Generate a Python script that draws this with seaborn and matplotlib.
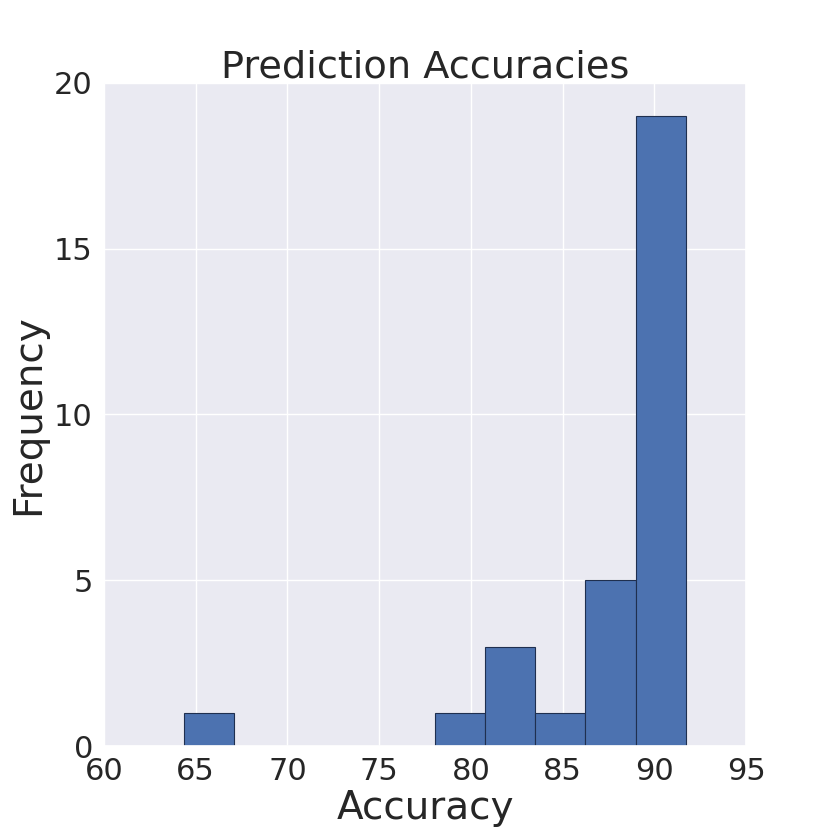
import matplotlib
matplotlib.use("Agg")
import matplotlib.pyplot as plt
import seaborn as sns
import numpy as np

bin_edges = [64.36, 67.10, 69.83, 72.57, 75.30, 78.04, 80.77, 83.51, 86.24, 88.98, 91.71]
counts = [1, 0, 0, 0, 0, 1, 3, 1, 5, 19]
x_ticks = [60, 65, 70, 75, 80, 85, 90, 95]
y_ticks = [0, 5, 10, 15, 20]

sns.set_theme(style="darkgrid")
plt.rcParams['font.family'] = ['DejaVu Sans']

fig = plt.figure(figsize=(8.3, 8.3), dpi=100)
ax = fig.add_axes([104/830, 1-746/830, (746-104)/830, (746-83)/830])

centers = [(bin_edges[i] + bin_edges[i+1]) / 2 for i in range(len(counts))]
sns.histplot(x=centers, weights=counts, bins=bin_edges, ax=ax,
             color="#4C72B0", alpha=1, edgecolor="#1f2f4f", linewidth=0.8)

ax.set_xlim(60, 95)
ax.set_ylim(0, 20)
ax.set_xticks(x_ticks)
ax.set_yticks(y_ticks)
ax.tick_params(labelsize=22, length=0, pad=8)
ax.set_xlabel("Accuracy", fontsize=28, labelpad=2)
ax.set_ylabel("Frequency", fontsize=28, labelpad=5)
ax.set_title("Prediction Accuracies", fontsize=27.5, pad=4)

fig.savefig("out.png", dpi=100)
